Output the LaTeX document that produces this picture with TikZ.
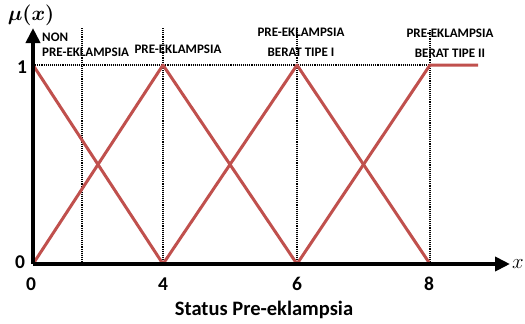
\documentclass[tikz,border=0pt]{standalone}
\usepackage{fontspec}
\usepackage{bm}
\setmainfont{Carlito}
\usetikzlibrary{arrows.meta}
\definecolor{memb}{RGB}{192,80,77}
\tikzset{
  axisline/.style={line width=4pt,-{Triangle[length=15pt,width=14pt]}},
  guide/.style={densely dotted,line width=1.1pt},
  mf/.style={memb,line width=3pt,line join=round},
  lbl/.style={font=\bfseries\fontsize{13}{15}\selectfont,inner sep=0pt},
  tick/.style={font=\bfseries\fontsize{19.5}{21}\selectfont,inner sep=0pt}
}
\begin{document}
\begin{tikzpicture}[x=1pt,y=-1pt]
\useasboundingbox (0,0) rectangle (525,324);
\coordinate (O) at (33,264);
\coordinate (T) at (33,65);
\coordinate (a) at (82,264);
\coordinate (b) at (163,264);
\coordinate (c) at (297,264);
\coordinate (d) at (430,264);
\coordinate (bt) at (163,65);
\coordinate (ct) at (297,65);
\coordinate (dt) at (430,65);
\coordinate (e) at (478,65);
% guides
\draw[guide] (82,28) -- (a);
\draw[guide] (163,28) -- (b);
\draw[guide] (297,28) -- (c);
\draw[guide] (430,30) -- (d);
\draw[guide] (T) -- (dt);
% membership functions
\draw[mf] (T) -- (b);
\draw[mf] (O) -- (bt) -- (c);
\draw[mf] (b) -- (ct) -- (d);
\draw[mf] (c) -- (dt) -- (e);
% axes
\draw[axisline] (O) -- (33,28);
\draw[axisline] (O) -- (510,264);
% labels
\node[font=\fontsize{20}{22}\selectfont,inner sep=0pt] (mu) at (31,15) {$\bm{\mu(x)}$};
\node[font=\fontsize{22}{24}\selectfont,inner sep=0pt] (xl) at (518,264) {$x$};
\node[tick] (one) at (22,67) {1};
\node[tick] (zero) at (20,262) {0};
\node[tick] (t0) at (31,284) {0};
\node[tick] (t4) at (163,284) {4};
\node[tick] (t6) at (297,284) {6};
\node[tick] (t8) at (429,284) {8};
\node[font=\bfseries\fontsize{20.5}{22}\selectfont,inner sep=0pt] (title) at (264,310) {Status Pre-eklampsia};
\node[lbl,anchor=west] (n1) at (42,37) {NON};
\node[lbl,anchor=west] (n2) at (42,52) {PRE-EKLAMPSIA};
\node[lbl] (p1) at (178,49) {PRE-EKLAMPSIA};
\node[lbl] (b1) at (301,32) {PRE-EKLAMPSIA};
\node[lbl] (b2) at (301,52) {BERAT TIPE I};
\node[lbl] (c1) at (450,33) {PRE-EKLAMPSIA};
\node[lbl] (c2) at (450,53) {BERAT TIPE II};
\end{tikzpicture}
\end{document}
